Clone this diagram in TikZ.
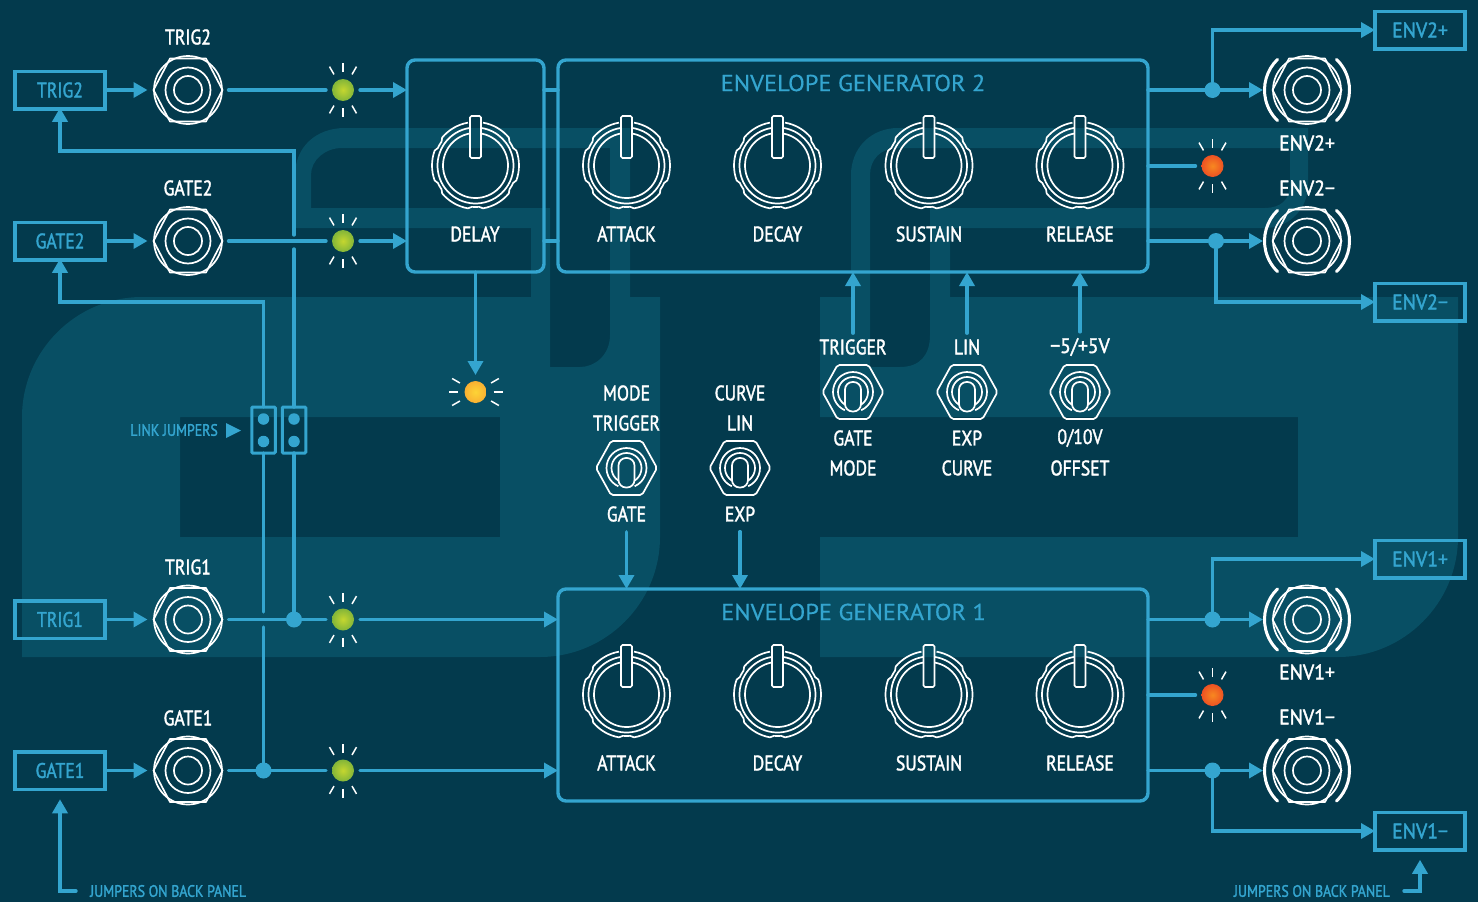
\documentclass[tikz,border=0pt]{standalone}
\usepackage{fontspec}
\setmainfont[FakeStretch=1.06,FakeBold=0.5]{PT Sans}
\newfontfamily\narrowfont[FakeStretch=0.84,FakeBold=1.7]{PT Sans}
\newfontfamily\widefont[FakeStretch=0.94,FakeBold=1.7]{PT Sans}
\usepackage{xcolor}
\usetikzlibrary{positioning,shapes,arrows.meta}

\definecolor{panelbg}{RGB}{3,58,77}
\definecolor{logobg}{RGB}{8,79,100}
\definecolor{wirecol}{RGB}{52,165,207}
\definecolor{ledgreenin}{RGB}{197,214,47}
\definecolor{ledgreenout}{RGB}{112,172,60}
\definecolor{ledredin}{RGB}{247,136,32}
\definecolor{ledredout}{RGB}{234,66,36}
\definecolor{ledyellowin}{RGB}{253,212,54}
\definecolor{ledyellowout}{RGB}{248,166,49}
\pgfdeclareradialshading{ledgreenshade}{\pgfpointorigin}{color(0bp)=(ledgreenin); color(32bp)=(ledgreenout); color(50bp)=(ledgreenout)}
\pgfdeclareradialshading{ledredshade}{\pgfpointorigin}{color(0bp)=(ledredin); color(32bp)=(ledredout); color(50bp)=(ledredout)}
\pgfdeclareradialshading{ledyellowshade}{\pgfpointorigin}{color(0bp)=(ledyellowin); color(32bp)=(ledyellowout); color(50bp)=(ledyellowout)}

\tikzset{
  logo/.style={fill=logobg,even odd rule},
  wire/.style={draw=wirecol,line width=3.4pt,line cap=round},
  wirearrow/.style={wire,-{Triangle[length=14pt,width=15pt]}},
  module/.style={draw=wirecol,line width=3.4pt,rounded corners=8pt,inner sep=0pt,outer sep=0pt},
  outbox/.style={draw=wirecol,line width=3.5pt,minimum width=90pt,minimum height=37.5pt,inner sep=0pt,outer sep=0pt,
    text=wirecol,font=\narrowfont\fontsize{21}{21}\selectfont},
  jumper/.style={draw=wirecol,line width=3pt,minimum width=23.5pt,minimum height=46pt,inner sep=0pt,outer sep=0pt,rounded corners=1pt},
  pin/.style={circle,fill=wirecol,minimum size=11.5pt,inner sep=0pt},
  dot/.style={circle,fill=wirecol,minimum size=16pt,inner sep=0pt,outer sep=0pt},
  jack/.style={circle,minimum size=68pt,inner sep=0pt,outer sep=6.5pt},
  jackb/.style={circle,minimum size=88pt,inner sep=0pt,outer sep=0pt},
  led/.style={circle,minimum size=22pt,inner sep=0pt,outer sep=6pt},
  ledgreen/.style={led,shade,shading=ledgreenshade},
  ledred/.style={led,shade,shading=ledredshade},
  ledyellow/.style={led,shade,shading=ledyellowshade},
  lbl/.style={text=white,inner sep=0pt,font=\narrowfont\fontsize{21}{21}\selectfont},
  lblwide/.style={text=white,inner sep=0pt,font=\widefont\fontsize{21}{21}\selectfont},
  title/.style={text=wirecol,inner sep=0pt,font=\fontsize{23}{23}\selectfont},
  note/.style={text=wirecol,inner sep=0pt,font=\narrowfont\fontsize{16.5}{16.5}\selectfont},
  fine/.style={draw=white,line width=1.7pt},
  ray/.style={draw=white,line width=1.5pt},
  jackface/.pic={
    \draw[fine] (0,0) circle (34);
    \draw[fine] (0,0) circle (22.5);
    \draw[fine] (0,0) circle (14);
    \draw[fine,line join=round] (-34.5,0) -- (-18,-31.5) -- (18,-31.5) -- (34.5,0) -- (18,31.5) -- (-18,31.5) -- cycle;
  },
  brackets/.pic={
    \begin{scope}[y=1pt]
      \draw[draw=white,line width=3pt,line cap=round] (134:42.5) arc[start angle=134,end angle=226,radius=42.5];
      \draw[draw=white,line width=3pt,line cap=round] (-46:42.5) arc[start angle=-46,end angle=46,radius=42.5];
    \end{scope}
  },
  knob/.pic={
    \begin{scope}[y=1pt]
      \draw[fine] (100:43.5) arc[start angle=100,end angle=140,radius=43.5]
        \foreach \a in {180,240,300,360,420} {
          -- ({\a-35}:41.5) arc[start angle=\a-35,end angle=\a-25,radius=41.5]
          -- ({\a-20}:43.5) arc[start angle=\a-20,end angle=\a+20,radius=43.5]
        };
      \draw[fine] (99:38) arc[start angle=99,end angle=441,radius=38];
      \draw[fine] (100.5:32.5) arc[start angle=100.5,end angle=439.5,radius=32.5];
      \draw[fine,rounded corners=1.5pt] (-5.5,7.5) rectangle (5.5,49.5);
    \end{scope}
  },
  toggle/.pic={
    \begin{scope}[y=1pt]
      \draw[fine,rounded corners=2pt] (-30.5,0) -- (-15.5,27) -- (15.5,27) -- (30.5,0) -- (15.5,-27) -- (-15.5,-27) -- cycle;
      \draw[fine] (-66:20) arc[start angle=-66,end angle=246,radius=20];
      \draw[fine] (-58:15) arc[start angle=-58,end angle=238,radius=15];
      \draw[fine,rounded corners=7.5pt] (-8,-19.5) rectangle (8,10);
    \end{scope}
  },
  raysv/.pic={
    \foreach \a in {60,90,120,240,270,300}
      \draw[ray] (\a:18) -- (\a:27);
  },
  raysh/.pic={
    \foreach \a in {-30,0,30,150,180,210}
      \draw[ray] (\a:18) -- (\a:27);
  },
}

\newcommand{\jackin}[2]{\node[jack] (#1) at (#2) {}; \pic at (#2) {jackface};}
\newcommand{\jackout}[2]{\node[jackb] (#1) at (#2) {}; \pic at (#2) {jackface}; \pic at (#2) {brackets};}
\newcommand{\ledv}[3]{\node[#3] (#1) at (#2) {}; \pic at (#2) {raysv};}

\begin{document}
\begin{tikzpicture}[x=1pt,y=-1pt]
  \useasboundingbox (0,0) rectangle (1478,902);
  \fill[panelbg] (0,0) rectangle (1478,902);

  % logo behind the panel
  \fill[logo] (22,657) -- (22,417) .. controls (22,351) and (76,297) .. (142,297)
    -- (531,297) -- (531,228) -- (295,228) -- (295,175) .. controls (295,148) and (315,128) .. (345,128)
    -- (630,128) -- (630,297) -- (660,297) -- (660,537) .. controls (660,603) and (606,657) .. (540,657) -- cycle
    (311,208) -- (311,175) .. controls (311,160) and (325,148) .. (342,148) -- (610,148) -- (610,335)
    .. controls (610,355) and (595,367) .. (580,367) -- (550,367) -- (550,208) -- cycle
    (180,417) rectangle (500,537);
  \fill[logo] (820,657) -- (820,537) -- (1298,537) -- (1298,417) -- (820,417) -- (820,297) -- (851,297)
    -- (851,175) .. controls (851,148) and (871,128) .. (898,128) -- (1308,128) -- (1308,185)
    .. controls (1308,208) and (1290,228) .. (1265,228) -- (950,228) -- (950,297) -- (1458,297)
    -- (1458,537) .. controls (1458,603) and (1404,657) .. (1338,657) -- cycle
    (870,175) .. controls (870,160) and (880,148) .. (898,148) -- (1290,148) -- (1290,185)
    .. controls (1290,200) and (1280,208) .. (1265,208) -- (930,208) -- (930,335)
    .. controls (930,355) and (920,367) .. (900,367) -- (870,367) -- cycle;

  % modules
  \node[module,minimum width=137pt,minimum height=212pt] (delay) at (475.5,166) {};
  \node[module,minimum width=590pt,minimum height=212pt] (env2) at (853,166) {};
  \node[module,minimum width=590pt,minimum height=212pt] (env1) at (853,695) {};
  \node[title] (title2) at (853,83) {ENVELOPE GENERATOR 2};
  \node[title] (title1) at (853.5,612) {ENVELOPE GENERATOR 1};

  % knobs
  \pic at (475.5,165.5) {knob};
  \pic at (626.5,165.5) {knob};
  \pic at (777.5,165.5) {knob};
  \pic at (929,165.5) {knob};
  \pic at (1080,165.5) {knob};
  \pic at (626.5,694.5) {knob};
  \pic at (777.5,694.5) {knob};
  \pic at (929,694.5) {knob};
  \pic at (1080,694.5) {knob};
  \node[lbl] (kdelay) at (475,234) {DELAY};
  \node[lbl] (kattack2) at (626.5,234) {ATTACK};
  \node[lbl] (kdecay2) at (777.5,234) {DECAY};
  \node[lbl] (ksustain2) at (929,234) {SUSTAIN};
  \node[lbl] (krelease2) at (1080,234) {RELEASE};
  \node[lbl] (kattack1) at (626.5,763) {ATTACK};
  \node[lbl] (kdecay1) at (777.5,763) {DECAY};
  \node[lbl] (ksustain1) at (929,763) {SUSTAIN};
  \node[lbl] (krelease1) at (1080,763) {RELEASE};

  % toggles
  \pic at (626.5,468) {toggle};
  \pic at (740,468) {toggle};
  \pic at (853,392) {toggle};
  \pic at (967,392) {toggle};
  \pic at (1080,392) {toggle};
  \node[lbl] (tmode1) at (626.5,393) {MODE};
  \node[lbl] (ttrig1) at (626.5,423) {TRIGGER};
  \node[lbl] (tgate1) at (626.5,514) {GATE};
  \node[lbl] (tcurve1) at (740,393) {CURVE};
  \node[lbl] (tlin1) at (740,423) {LIN};
  \node[lbl] (texp1) at (740,514) {EXP};
  \node[lbl] (ttrig2) at (853,347) {TRIGGER};
  \node[lbl] (tgate2) at (853,438) {GATE};
  \node[lbl] (tmode2) at (853,468) {MODE};
  \node[lbl] (tlin2) at (967,347) {LIN};
  \node[lbl] (texp2) at (967,438) {EXP};
  \node[lbl] (tcurve2) at (967,468) {CURVE};
  \node[lblwide] (tvolt) at (1080,347) {−5/+5V};
  \node[lbl] (tten) at (1080,438) {0/10V};
  \node[lbl] (toffs) at (1080,468) {OFFSET};

  % boxes
  \node[outbox] (btrig2) at (60,90) {TRIG2};
  \node[outbox] (bgate2) at (60,241) {GATE2};
  \node[outbox] (btrig1) at (60,619.5) {TRIG1};
  \node[outbox] (bgate1) at (60,770.5) {GATE1};
  \node[outbox,font=\widefont\fontsize{21}{21}\selectfont] (benv2p) at (1420,30) {ENV2+};
  \node[outbox,font=\widefont\fontsize{21}{21}\selectfont] (benv2m) at (1420,302) {ENV2−};
  \node[outbox,font=\widefont\fontsize{21}{21}\selectfont] (benv1p) at (1420,559) {ENV1+};
  \node[outbox,font=\widefont\fontsize{21}{21}\selectfont] (benv1m) at (1420,831) {ENV1−};

  % jacks
  \jackin{jtrig2}{188,90}
  \jackin{jgate2}{188,241}
  \jackin{jtrig1}{188,619.5}
  \jackin{jgate1}{188,770.5}
  \jackout{jenv2p}{1307,90}
  \jackout{jenv2m}{1307,241}
  \jackout{jenv1p}{1307,619.5}
  \jackout{jenv1m}{1307,770.5}
  \node[lbl] (ltrig2) at (188,37) {TRIG2};
  \node[lbl] (lgate2) at (188,188) {GATE2};
  \node[lbl] (ltrig1) at (188,567) {TRIG1};
  \node[lbl] (lgate1) at (188,718) {GATE1};
  \node[lblwide] (lenv2p) at (1307,143) {ENV2+};
  \node[lblwide] (lenv2m) at (1307,188) {ENV2−};
  \node[lblwide] (lenv1p) at (1307,672) {ENV1+};
  \node[lblwide] (lenv1m) at (1307,717) {ENV1−};

  % leds
  \ledv{ltr2}{343,90}{ledgreen}
  \ledv{lgt2}{343,241}{ledgreen}
  \ledv{ltr1}{343,619.5}{ledgreen}
  \ledv{lgt1}{343,770.5}{ledgreen}
  \ledv{lev2}{1212.5,166}{ledred}
  \ledv{lev1}{1212.5,695}{ledred}
  \node[ledyellow] (ldel) at (475.5,392) {};
  \pic at (475.5,392) {raysh};

  % link jumpers
  \node[jumper] (jmpa) at (263.5,430) {};
  \node[jumper] (jmpb) at (294,430) {};
  \node[pin] (pa1) at (263.5,419) {};
  \node[pin] (pa2) at (263.5,441.5) {};
  \node[pin] (pb1) at (294,419) {};
  \node[pin] (pb2) at (294,441.5) {};
  \node[note,anchor=east] (nlink) at (218,430) {LINK JUMPERS};
  \fill[wirecol] (226,423) -- (241,430.5) -- (226,438) -- cycle;

  % junctions
  \node[dot] (dtrig) at (294,619.5) {};
  \node[dot] (dgate) at (263.5,770.5) {};
  \node[dot] (denv2p) at (1212.5,90) {};
  \node[dot] (denv2m) at (1216,241) {};
  \node[dot] (denv1p) at (1212.5,619.5) {};
  \node[dot] (denv1m) at (1212.5,770.5) {};

  % inputs
  \draw[wirearrow] (btrig2) -- (jtrig2);
  \draw[wirearrow] (bgate2) -- (jgate2);
  \draw[wirearrow] (btrig1) -- (jtrig1);
  \draw[wirearrow] (bgate1) -- (jgate1);
  \draw[wire] (jtrig2) -- (ltr2);
  \draw[wire] (jgate2) -- (lgt2);
  \draw[wire] (jtrig1) -- (dtrig) -- (ltr1);
  \draw[wire] (jgate1) -- (dgate) -- (lgt1);
  \draw[wirearrow] (ltr2) -- (ltr2 -| delay.west);
  \draw[wirearrow] (lgt2) -- (lgt2 -| delay.west);
  \draw[wirearrow] (ltr1) -- (ltr1 -| env1.west);
  \draw[wirearrow] (lgt1) -- (lgt1 -| env1.west);
  \draw[wire] (ltr2 -| delay.east) -- (ltr2 -| env2.west);
  \draw[wire] (lgt2 -| delay.east) -- (lgt2 -| env2.west);
  \draw[wirearrow] (delay.south) -- (ldel);

  % link wires
  \coordinate (gapb1) at (294,235);
  \coordinate (gapb2) at (294,249);
  \coordinate (benda) at (294,151);
  \coordinate (gapa1) at (263.5,612);
  \coordinate (gapa2) at (263.5,627);
  \coordinate (bendb) at (263.5,302);
  \draw[wirearrow,shorten >=-1pt] (gapb1) -- (benda) -| (btrig2.south);
  \draw[wire] (jmpb.north) -- (gapb2);
  \draw[wire] (jmpb.south) -- (dtrig);
  \draw[wirearrow,shorten >=-1pt] (jmpa.north) -- (bendb) -| (bgate2.south);
  \draw[wire] (jmpa.south) -- (gapa1);
  \draw[wire] (gapa2) -- (dgate);

  % mode switches
  \draw[wirearrow,shorten <=6pt] (ttrig2.north) -- (ttrig2.north |- env2.south);
  \draw[wirearrow,shorten <=6pt] (tlin2.north) -- (tlin2.north |- env2.south);
  \draw[wirearrow,shorten <=6pt] (tvolt.north) -- (tvolt.north |- env2.south);
  \draw[wirearrow,shorten <=10pt] (tgate1.south) -- (tgate1.south |- env1.north);
  \draw[wirearrow,shorten <=10pt] (texp1.south) -- (texp1.south |- env1.north);

  % outputs
  \draw[wire] (denv2p -| env2.east) -- (denv2p);
  \draw[wire] (denv2m -| env2.east) -- (denv2m);
  \draw[wire] (lev2 -| env2.east) -- (lev2);
  \draw[wire] (denv1p -| env1.east) -- (denv1p);
  \draw[wire] (denv1m -| env1.east) -- (denv1m);
  \draw[wire] (lev1 -| env1.east) -- (lev1);
  \draw[wirearrow] (denv2p) -- (jenv2p);
  \draw[wirearrow] (denv2m) -- (jenv2m);
  \draw[wirearrow] (denv1p) -- (jenv1p);
  \draw[wirearrow] (denv1m) -- (jenv1m);
  \draw[wirearrow] (denv2p) |- (benv2p);
  \draw[wirearrow] (denv2m) |- (benv2m);
  \draw[wirearrow] (denv1p) |- (benv1p);
  \draw[wirearrow] (denv1m) |- (benv1m);

  % back panel notes
  \node[note,anchor=west] (nbackl) at (90,891) {JUMPERS ON BACK PANEL};
  \node[note,anchor=east] (nbackr) at (1390,891) {JUMPERS ON BACK PANEL};
  \draw[wirearrow,shorten <=14pt,shorten >=10pt] (nbackl.west) -| (bgate1.south);
  \draw[wirearrow,shorten <=14pt,shorten >=10pt] (nbackr.east) -| (benv1m.south);
\end{tikzpicture}
\end{document}
